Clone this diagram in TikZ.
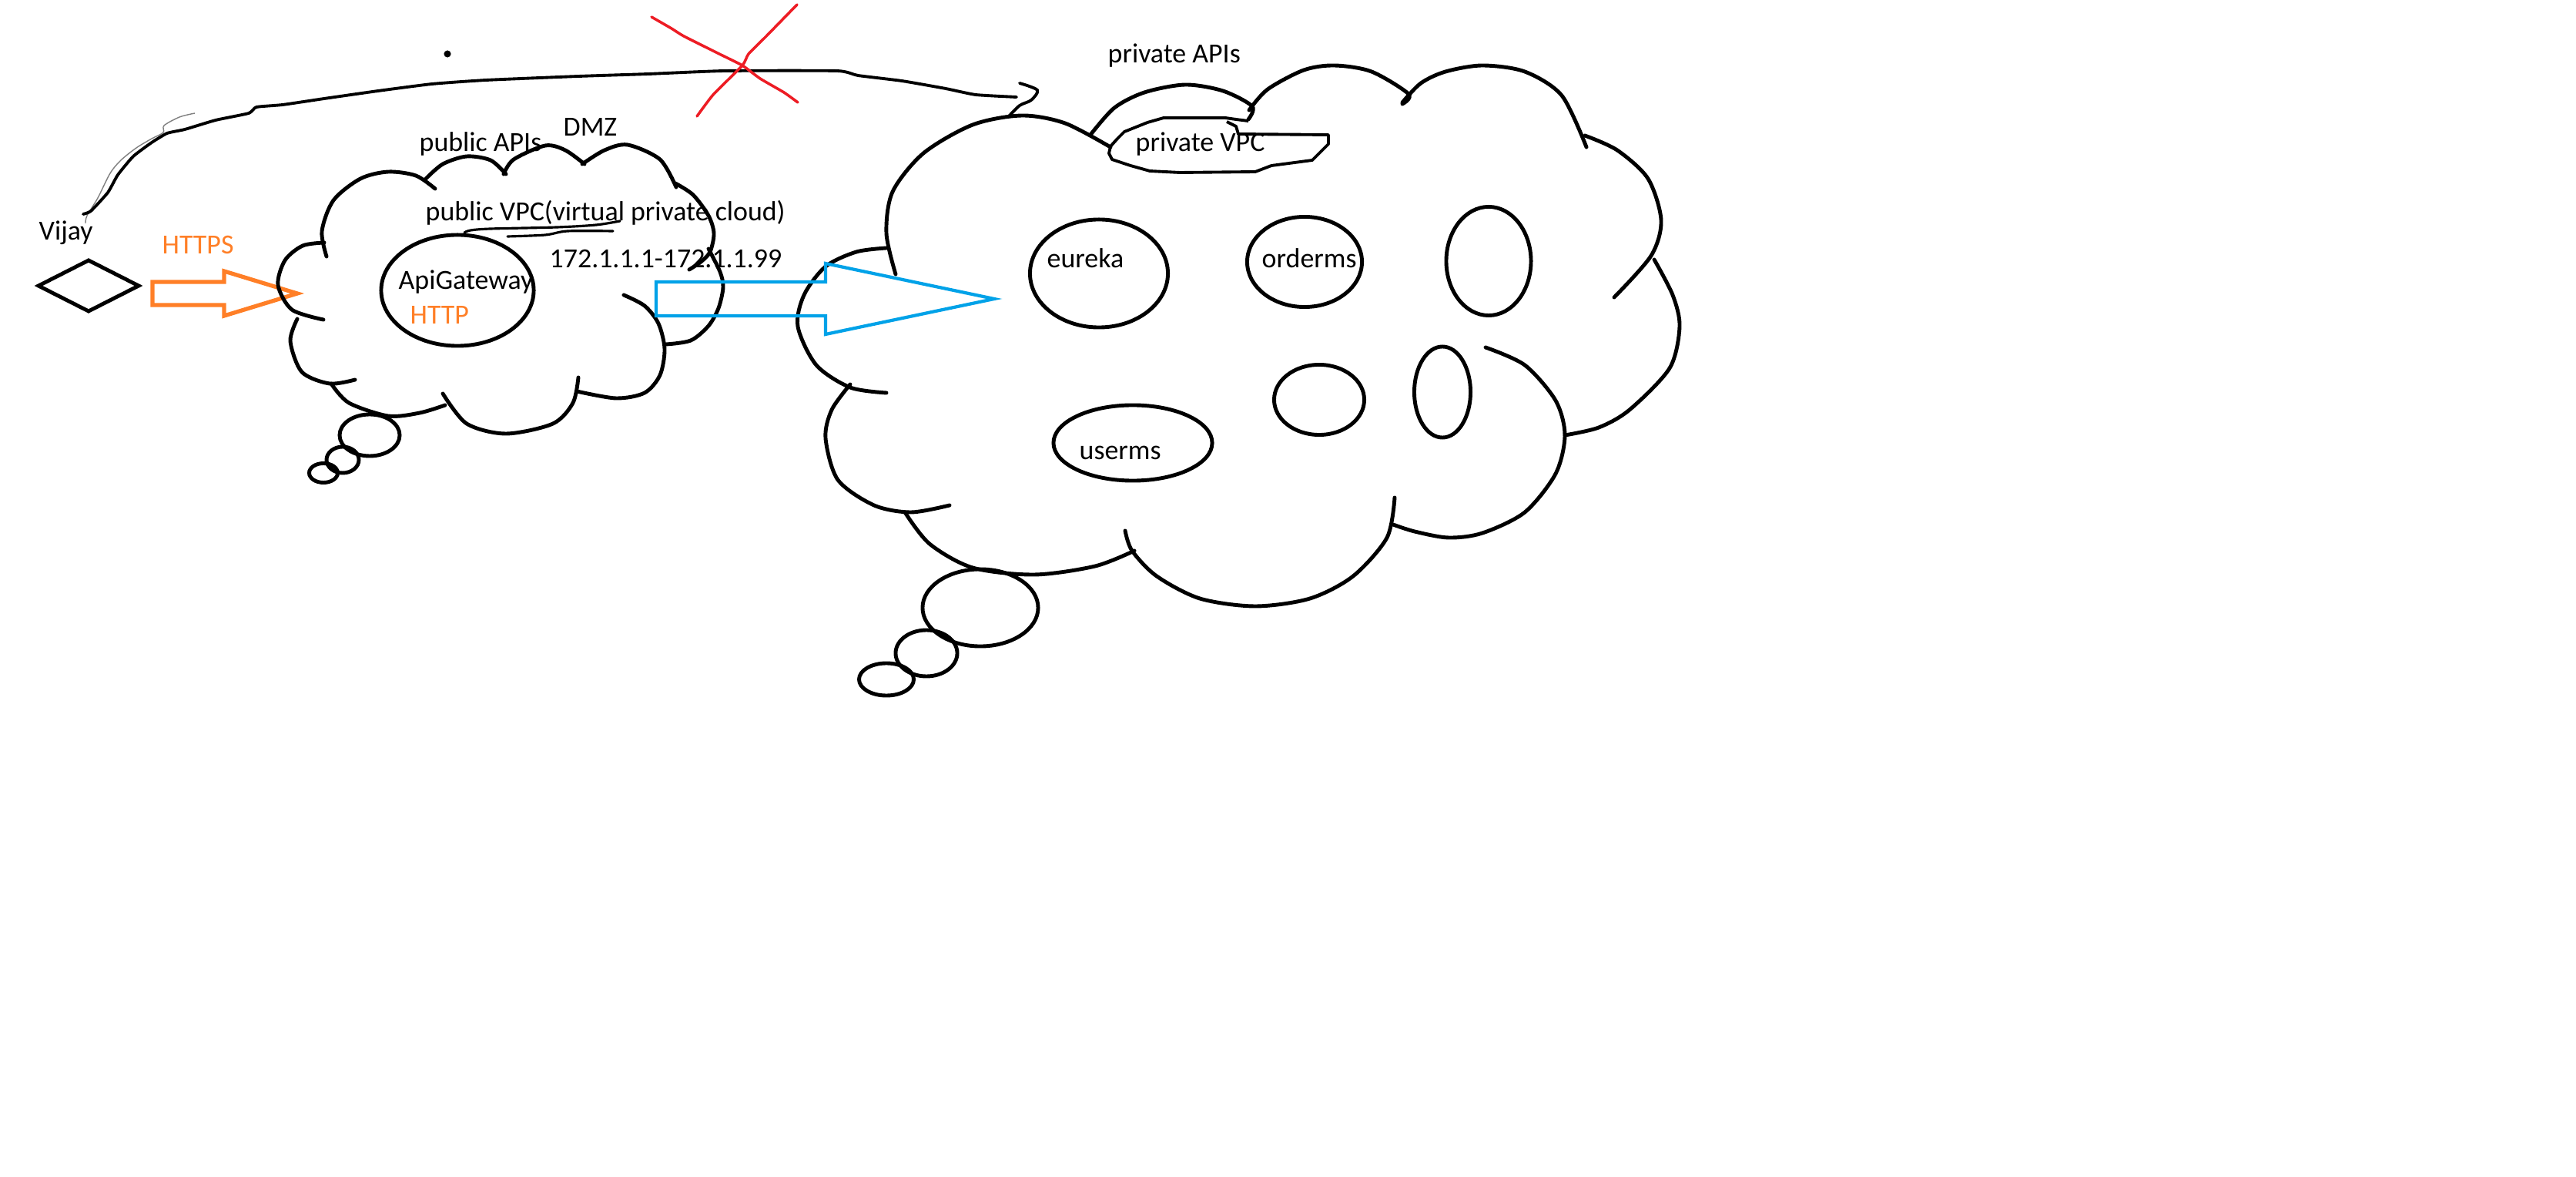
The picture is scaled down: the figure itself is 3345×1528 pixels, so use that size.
\documentclass[tikz,border=0pt]{standalone}
\usepackage{fontspec}
\setmainfont{Carlito}
\usepackage{tikz}
\usetikzlibrary{shapes.geometric}
\definecolor{paintorange}{HTML}{FF7F27}
\definecolor{paintblue}{HTML}{00A2E8}
\definecolor{paintred}{HTML}{ED1C24}

\tikzset{
  bump/.style={line width=1.4pt, line cap=round},
  blob/.style={draw, ellipse, line width=1.4pt, inner sep=0pt},
  lbl/.style={anchor=base west, inner sep=0pt, font=\fontsize{10.2}{12}\selectfont},
}

\begin{document}
\begin{tikzpicture}[x=0.01cm, y=-0.01cm]
  \useasboundingbox (0,0) rectangle (3345,1528);

  % User
  \node[diamond, draw, line width=1.4pt, minimum width=1.32cm, minimum height=0.68cm, inner sep=0pt] (user) at (115,371) {};
  \node[lbl] (vijaylbl) at (50,312) {Vijay};
  \node[lbl, text=paintorange] (httpslbl) at (210,330) {HTTPS};
  \draw[paintorange, line width=1.5pt] (198,366) -- (291,366) -- (291,352) -- (386,381)
    -- (291,410) -- (291,396) -- (198,396) -- cycle;

  % DMZ cloud
  \draw[bump] plot[smooth] coordinates {(424,333) (418,300) (433,260) (468,232) (504,223) (540,228) (565,245)};
  \draw[bump] plot[smooth] coordinates {(553,232) (575,213) (606,203) (637,208) (657,226)};
  \draw[bump] plot[smooth] coordinates {(654,226) (667,207) (708,189) (734,195) (759,213)};
  \draw[bump] plot[smooth] coordinates {(756,213) (785,195) (815,188) (857,207) (878,243)};
  \draw[bump] plot[smooth] coordinates {(877,238) (900,253) (920,280) (927,303) (922,327) (910,340) (895,350)};
  \draw[bump] plot[smooth] coordinates {(920,323) (935,353) (939,373) (933,400) (920,423) (897,442) (865,447)};
  \draw[bump] plot[smooth] coordinates {(810,383) (837,397) (855,420) (863,453) (857,487) (837,510) (800,517) (749,508)};
  \draw[bump] plot[smooth] coordinates {(751,490) (744,523) (718,550) (657,563) (606,550) (575,511)};
  \draw[bump] plot[smooth] coordinates {(578,526) (545,536) (504,540) (453,523) (430,498)};
  \draw[bump] plot[smooth] coordinates {(461,493) (428,498) (392,483) (377,443) (386,414)};
  \draw[bump] plot[smooth] coordinates {(420,415) (379,402) (361,370) (370,338) (393,319) (421,315)};

  % Private cloud
  \draw[bump] plot[smooth] coordinates {(1163,356) (1151,303) (1159,249) (1199,199) (1263,162) (1327,150) (1383,160) (1442,191)};
  \draw[bump] plot[smooth] coordinates {(1416,175) (1447,140) (1486,120) (1539,110) (1588,118) (1626,138) (1621,155)};
  \draw[bump] plot[smooth] coordinates {(1622,143) (1646,116) (1693,91) (1733,85) (1781,93) (1829,122) (1821,135)};
  \draw[bump] plot[smooth] coordinates {(1821,133) (1845,108) (1877,93) (1925,85) (1980,93) (2028,124) (2060,191)};
  \draw[bump] plot[smooth] coordinates {(2058,176) (2100,195) (2140,232) (2157,286) (2144,332) (2096,386)};
  \draw[bump] plot[smooth] coordinates {(2148,337) (2172,383) (2181,424) (2168,478) (2116,532) (2076,555) (2032,565)};
  \draw[bump] plot[smooth] coordinates {(1929,451) (1980,474) (2020,520) (2032,565) (2020,615) (1980,665) (1925,692) (1881,698) (1837,690) (1809,681)};
  \draw[bump] plot[smooth] coordinates {(1811,646) (1801,698) (1757,748) (1701,777) (1630,787) (1558,777) (1502,748) (1470,715) (1461,689)};
  \draw[bump] plot[smooth] coordinates {(1473,715) (1422,735) (1343,746) (1263,737) (1207,706) (1175,665)};
  \draw[bump] plot[smooth] coordinates {(1233,656) (1183,665) (1135,656) (1088,623) (1072,569) (1080,532) (1104,499)};
  \draw[bump] plot[smooth] coordinates {(1151,510) (1104,503) (1060,474) (1036,424) (1044,383) (1072,346) (1112,327) (1151,322)};

  % Bubbles and services
  \foreach \name/\x/\y/\w/\h in {bubA/480/565/0.78/0.54, bubB/445/597/0.42/0.34, bubC/420/614/0.37/0.25,
    bubD/1273/789/1.50/1.00, bubE/1203/848/0.80/0.60, bubF/1151/882/0.71/0.42,
    gateway/594/377/1.98/1.44, eureka/1427/355/1.79/1.40, orderms/1694/340/1.49/1.17,
    svcA/1933/339/1.10/1.41, svcB/1713/519/1.17/0.91, svcC/1873/509/0.73/1.18,
    userms/1471/575/2.06/0.98} {
    \node[blob, minimum width=\w cm, minimum height=\h cm] (\name) at (\x,\y) {};
  }

  % Labels
  \foreach \name/\x/\y/\txt in {pubapis/544/197/public APIs, dmz/731/177/DMZ,
    pubvpc/552/287/public VPC(virtual private cloud), iprange/713/348/172.1.1.1-172.1.1.99,
    gwlbl/517/376/ApiGateway, privapis/1438/82/private APIs, privvpc/1474/197/private VPC,
    eurekalbl/1359/348/eureka, ordermslbl/1638/348/orderms, usermslbl/1401/597/userms} {
    \node[lbl] (\name) at (\x,\y) {\txt};
  }
  \node[lbl, text=paintorange] (httplbl) at (532,421) {HTTP};

  % Scribbles
  \draw[line width=0.9pt, line cap=round] plot[smooth] coordinates {(603,302) (611,299) (637,297) (723,295) (774,292) (805,287)};
  \draw[line width=0.9pt, line cap=round] plot[smooth] coordinates {(659,307) (708,305) (737,300) (796,300)};
  \draw[line width=1.1pt, line join=round] (1442,190) -- (1451,180) -- (1460,171) -- (1490,159) -- (1511,153)
    -- (1591,153) -- (1605,155) -- (1621,157);
  \draw[line width=1.1pt, line join=round] (1593,158) -- (1605,164) -- (1608,174) -- (1725,175) -- (1725,187)
    -- (1719,193) -- (1704,208) -- (1651,215) -- (1630,223) -- (1532,224) -- (1493,222) -- (1468,215)
    -- (1444,207) -- (1440,199) -- (1442,190);

  % DMZ to private
  \draw[paintblue, line width=1.2pt] (852,366) -- (1072,366) -- (1072,342) -- (1291,388)
    -- (1072,434) -- (1072,410) -- (852,410) -- cycle;

  % Direct link, crossed out
  \coordinate (linkstart) at (108,278);
  \coordinate (linkend) at (1309,152);
  \draw[gray, line width=0.4pt] plot[smooth] coordinates {(111,290) (113,280) (127,257) (143,225) (157,208)
    (177,192) (197,180) (212,172) (213,163) (233,152) (253,147)};
  \draw[line width=1.1pt, line cap=round] plot[smooth, tension=0.3] coordinates {(linkstart) (118,274) (140,250)
    (153,227) (173,203) (197,185) (217,173) (240,168) (280,156) (323,147) (333,139) (367,136) (421,128)
    (491,118) (561,109) (631,104) (751,99) (842,96) (941,92) (1087,92) (1114,98) (1171,105) (1228,115)
    (1267,123) (1320,126)};
  \draw[line width=1.1pt, line cap=round] plot[smooth, tension=0.5] coordinates {(1324,108) (1347,117)
    (1339,130) (1324,137) (linkend)};
  \fill (581,70) circle (1.3pt);
  \draw[paintred, line width=1pt, line cap=round] plot[smooth, tension=0.3] coordinates {(846,22) (872,37)
    (888,47) (934,70) (964,85) (987,102) (1018,120) (1036,133)};
  \draw[paintred, line width=1pt, line cap=round] plot[smooth, tension=0.3] coordinates {(1035,6) (995,47)
    (972,70) (964,85) (926,123) (905,151)};
\end{tikzpicture}
\end{document}
